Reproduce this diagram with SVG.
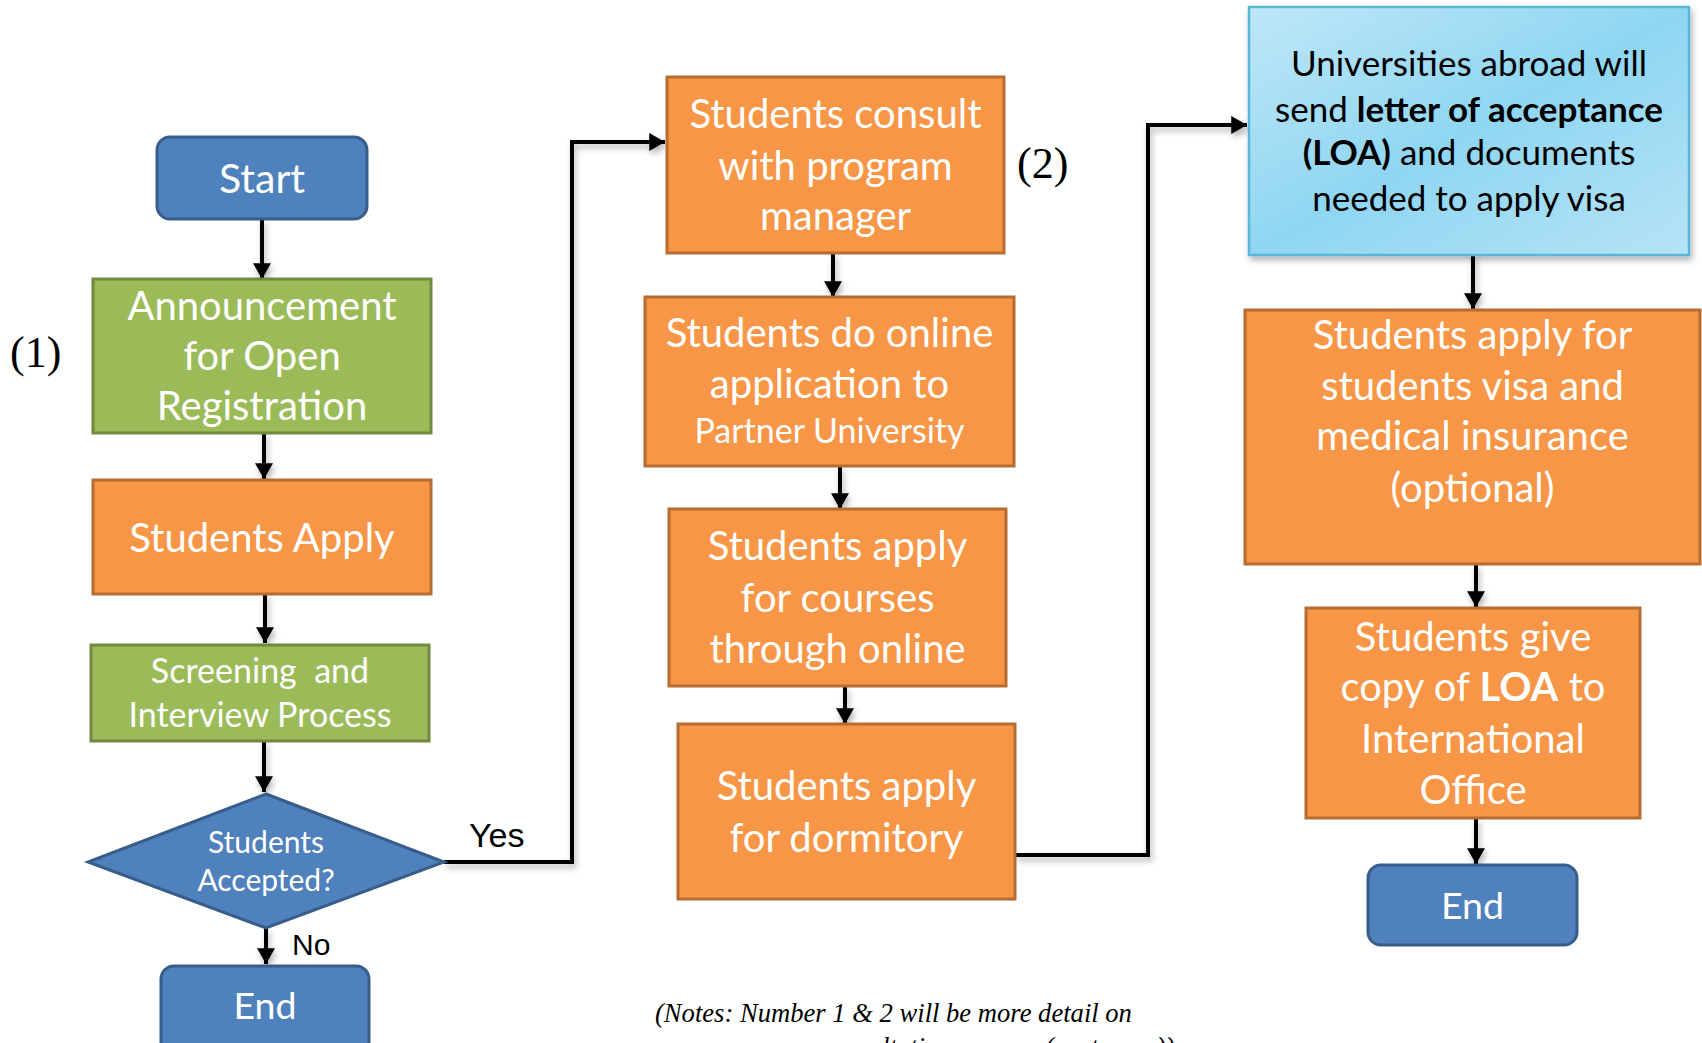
<svg xmlns="http://www.w3.org/2000/svg" width="1702" height="1043" viewBox="0 0 1702 1043">
<style>
  .orange { fill: #f79646; stroke: #b66d31; stroke-width: 3; }
  .green { fill: #9bbb59; stroke: #71893f; stroke-width: 3; }
  .blue { fill: #4f81bd; stroke: #385d8a; stroke-width: 3; }
  .loa { fill: url(#loaGrad); stroke: #5ab6d7; stroke-width: 2.5; filter: url(#boxshadow); }
  .t { font-family: Lato, "Open Sans", sans-serif; fill: #ffffff; text-anchor: middle; font-size: 40px; }
  .dark { fill: #000000; }
  .b { font-weight: bold; }
  .conn { fill: none; stroke: #000000; stroke-width: 4; marker-end: url(#arrow); }
  .lbl { font-family: "Liberation Sans", Arial, sans-serif; fill: #000000; }
  .num { font-family: "Liberation Serif", "Times New Roman", serif; fill: #000000; font-size: 44px; }
  .note { font-family: "Liberation Serif", "Times New Roman", serif; font-style: italic; fill: #000000; font-size: 26.6px; }
</style>
<defs>
  <linearGradient id="loaGrad" x1="0" y1="0" x2="1" y2="1">
    <stop offset="0" stop-color="#bfe7f7"/>
    <stop offset="0.5" stop-color="#8fd6f2"/>
    <stop offset="1" stop-color="#b6e3f6"/>
  </linearGradient>
  <filter id="shadow" filterUnits="userSpaceOnUse" x="0" y="0" width="1702" height="1043">
    <feDropShadow dx="2" dy="4" stdDeviation="3" flood-color="#000000" flood-opacity="0.3"/>
  </filter>
  <filter id="boxshadow" x="-10%" y="-10%" width="120%" height="125%">
    <feDropShadow dx="2" dy="4" stdDeviation="3" flood-color="#000000" flood-opacity="0.3"/>
  </filter>
  <marker id="arrow" markerUnits="userSpaceOnUse" markerWidth="18" markerHeight="18" viewBox="0 0 14 16" refX="14" refY="8" orient="auto">
    <path d="M0,0 L14,8 L0,16 Z" fill="#000000"/>
  </marker>
</defs>

<g id="connectors" filter="url(#shadow)">
  <line class="conn" x1="262" y1="219" x2="262" y2="279"/>
  <line class="conn" x1="264" y1="433" x2="264" y2="479"/>
  <line class="conn" x1="265" y1="594" x2="265" y2="643"/>
  <line class="conn" x1="264" y1="741" x2="264" y2="792"/>
  <line class="conn" x1="266" y1="928" x2="266" y2="964"/>
  <polyline class="conn" points="444,862 572,862 572,142 665,142"/>
  <line class="conn" x1="833" y1="253" x2="833" y2="297"/>
  <line class="conn" x1="840" y1="466" x2="840" y2="509"/>
  <line class="conn" x1="845" y1="686" x2="845" y2="724"/>
  <polyline class="conn" points="1015,855 1148,855 1148,125 1247,125"/>
  <line class="conn" x1="1473" y1="255" x2="1473" y2="309"/>
  <line class="conn" x1="1476" y1="564" x2="1476" y2="607"/>
  <line class="conn" x1="1476" y1="818" x2="1476" y2="864"/>
</g>
<g id="connector-labels">
  <text class="lbl" x="469" y="847" font-size="34">Yes</text>
  <text class="lbl" x="292" y="955" font-size="30">No</text>
</g>

<g id="start">
  <rect class="blue" x="157" y="137" width="210" height="82" rx="13"/>
  <text class="t" x="262" y="193" style="font-size:41px">Start</text>
</g>

<g id="announcement">
  <rect class="green" x="93" y="279" width="338" height="154"/>
  <text class="t" x="262" y="320">Announcement</text>
  <text class="t" x="262" y="370">for Open</text>
  <text class="t" x="262" y="420">Registration</text>
</g>

<text id="label1" class="num" x="10" y="367">(1)</text>

<g id="students-apply">
  <rect class="orange" x="93" y="480" width="338" height="114"/>
  <text class="t" x="262" y="552">Students Apply</text>
</g>

<g id="screening">
  <rect class="green" x="91" y="645" width="338" height="96"/>
  <text class="t" x="260" y="683" style="font-size:34px" xml:space="preserve">Screening  and</text>
  <text class="t" x="260" y="727" style="font-size:34px">Interview Process</text>
</g>

<g id="decision">
  <polygon class="blue" points="266,794 444,862 266,928 88,862"/>
  <text class="t" x="266" y="853" style="font-size:30px">Students</text>
  <text class="t" x="266" y="891" style="font-size:30px">Accepted?</text>
</g>

<g id="end-left">
  <rect class="blue" x="161" y="966" width="208" height="100" rx="13"/>
  <text class="t" x="265" y="1019" style="font-size:37.5px">End</text>
</g>

<g id="consult">
  <rect class="orange" x="667" y="77" width="337" height="176"/>
  <text class="t" x="835.5" y="128">Students consult</text>
  <text class="t" x="835.5" y="180">with program</text>
  <text class="t" x="835.5" y="230">manager</text>
</g>

<text id="label2" class="num" x="1017" y="178">(2)</text>

<g id="online-application">
  <rect class="orange" x="645" y="297" width="369" height="169"/>
  <text class="t" x="829.5" y="347">Students do online</text>
  <text class="t" x="829.5" y="398">application to</text>
  <text class="t" x="829.5" y="443" style="font-size:34px">Partner University</text>
</g>

<g id="courses">
  <rect class="orange" x="669" y="509" width="337" height="177"/>
  <text class="t" x="837.5" y="560">Students apply</text>
  <text class="t" x="837.5" y="612">for courses</text>
  <text class="t" x="837.5" y="663">through online</text>
</g>

<g id="dormitory">
  <rect class="orange" x="678" y="724" width="337" height="175"/>
  <text class="t" x="846.5" y="800">Students apply</text>
  <text class="t" x="846.5" y="852">for dormitory</text>
</g>

<g id="loa">
  <rect class="loa" x="1249" y="7" width="440" height="248"/>
  <text class="t dark" x="1469" y="76" style="font-size:35px">Universities abroad will</text>
  <text class="t dark" x="1469" y="122" style="font-size:35px">send <tspan class="b">letter of acceptance</tspan></text>
  <text class="t dark" x="1469" y="165" style="font-size:35px"><tspan class="b">(LOA)</tspan> and documents</text>
  <text class="t dark" x="1469" y="211" style="font-size:35px">needed to apply visa</text>
</g>

<g id="visa">
  <rect class="orange" x="1245" y="310" width="455" height="254"/>
  <text class="t" x="1472.5" y="349">Students apply for</text>
  <text class="t" x="1472.5" y="400">students visa and</text>
  <text class="t" x="1472.5" y="450">medical insurance</text>
  <text class="t" x="1472.5" y="502">(optional)</text>
</g>

<g id="copy-loa">
  <rect class="orange" x="1306" y="608" width="334" height="210"/>
  <text class="t" x="1473" y="651">Students give</text>
  <text class="t" x="1473" y="701">copy of <tspan class="b">LOA</tspan> to</text>
  <text class="t" x="1473" y="753">International</text>
  <text class="t" x="1473" y="804">Office</text>
</g>

<g id="end-right">
  <rect class="blue" x="1368" y="865" width="209" height="80" rx="13"/>
  <text class="t" x="1472.5" y="919" style="font-size:37.5px">End</text>
</g>

<g id="note">
  <text class="note" x="655" y="1022">(Notes: Number 1 &amp; 2 will be more detail on</text>
  <text class="note" x="820" y="1056">consultation process (next page))</text>
</g>
</svg>
